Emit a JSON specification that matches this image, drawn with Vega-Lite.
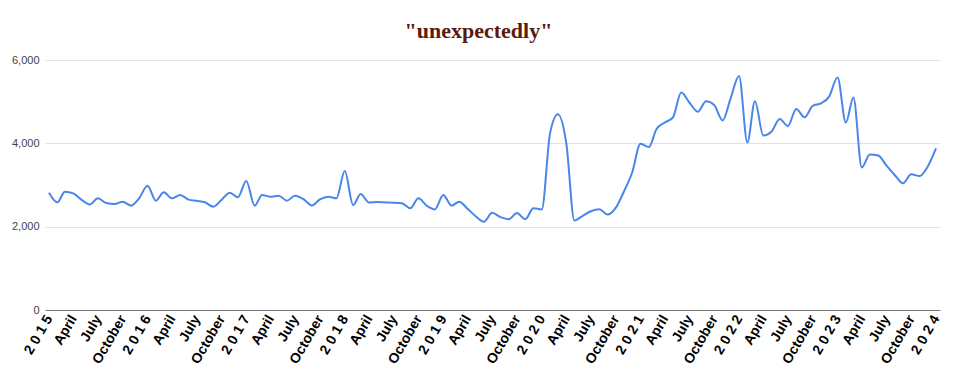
{
  "$schema": "https://vega.github.io/schema/vega-lite/v6.json",
  "autosize": "none",
  "padding": {"left": 45, "top": 60, "right": 15, "bottom": 81},
  "width": 895,
  "height": 250,
  "background": "white",
  "title": {
    "text": "\"unexpectedly\"",
    "font": "Liberation Serif",
    "fontSize": 22,
    "fontWeight": "bold",
    "color": "#5b1a0c",
    "anchor": "middle",
    "dx": -14,
    "offset": 11
  },
  "data": {
    "values": [
      {"date": "2015-01-01", "value": 2815},
      {"date": "2015-02-01", "value": 2585},
      {"date": "2015-03-01", "value": 2840},
      {"date": "2015-04-01", "value": 2800},
      {"date": "2015-05-01", "value": 2650},
      {"date": "2015-06-01", "value": 2530},
      {"date": "2015-07-01", "value": 2680},
      {"date": "2015-08-01", "value": 2570},
      {"date": "2015-09-01", "value": 2545},
      {"date": "2015-10-01", "value": 2600},
      {"date": "2015-11-01", "value": 2505},
      {"date": "2015-12-01", "value": 2680},
      {"date": "2016-01-01", "value": 2985},
      {"date": "2016-02-01", "value": 2625},
      {"date": "2016-03-01", "value": 2825},
      {"date": "2016-04-01", "value": 2680},
      {"date": "2016-05-01", "value": 2760},
      {"date": "2016-06-01", "value": 2650},
      {"date": "2016-07-01", "value": 2620},
      {"date": "2016-08-01", "value": 2585},
      {"date": "2016-09-01", "value": 2480},
      {"date": "2016-10-01", "value": 2640},
      {"date": "2016-11-01", "value": 2815},
      {"date": "2016-12-01", "value": 2705},
      {"date": "2017-01-01", "value": 3095},
      {"date": "2017-02-01", "value": 2505},
      {"date": "2017-03-01", "value": 2760},
      {"date": "2017-04-01", "value": 2720},
      {"date": "2017-05-01", "value": 2745},
      {"date": "2017-06-01", "value": 2625},
      {"date": "2017-07-01", "value": 2745},
      {"date": "2017-08-01", "value": 2660},
      {"date": "2017-09-01", "value": 2510},
      {"date": "2017-10-01", "value": 2655},
      {"date": "2017-11-01", "value": 2720},
      {"date": "2017-12-01", "value": 2680},
      {"date": "2018-01-01", "value": 3335},
      {"date": "2018-02-01", "value": 2520},
      {"date": "2018-03-01", "value": 2785},
      {"date": "2018-04-01", "value": 2580},
      {"date": "2018-05-01", "value": 2590},
      {"date": "2018-06-01", "value": 2580},
      {"date": "2018-07-01", "value": 2575},
      {"date": "2018-08-01", "value": 2560},
      {"date": "2018-09-01", "value": 2440},
      {"date": "2018-10-01", "value": 2680},
      {"date": "2018-11-01", "value": 2505},
      {"date": "2018-12-01", "value": 2415},
      {"date": "2019-01-01", "value": 2760},
      {"date": "2019-02-01", "value": 2505},
      {"date": "2019-03-01", "value": 2600},
      {"date": "2019-04-01", "value": 2430},
      {"date": "2019-05-01", "value": 2250},
      {"date": "2019-06-01", "value": 2120},
      {"date": "2019-07-01", "value": 2335},
      {"date": "2019-08-01", "value": 2230},
      {"date": "2019-09-01", "value": 2180},
      {"date": "2019-10-01", "value": 2330},
      {"date": "2019-11-01", "value": 2180},
      {"date": "2019-12-01", "value": 2440},
      {"date": "2020-01-01", "value": 2415},
      {"date": "2020-02-01", "value": 4250},
      {"date": "2020-03-01", "value": 4700},
      {"date": "2020-04-01", "value": 4000},
      {"date": "2020-05-01", "value": 2150},
      {"date": "2020-06-01", "value": 2260},
      {"date": "2020-07-01", "value": 2370},
      {"date": "2020-08-01", "value": 2420},
      {"date": "2020-09-01", "value": 2290},
      {"date": "2020-10-01", "value": 2450},
      {"date": "2020-11-01", "value": 2850},
      {"date": "2020-12-01", "value": 3300},
      {"date": "2021-01-01", "value": 3990},
      {"date": "2021-02-01", "value": 3910},
      {"date": "2021-03-01", "value": 4340},
      {"date": "2021-04-01", "value": 4500},
      {"date": "2021-05-01", "value": 4620},
      {"date": "2021-06-01", "value": 5220},
      {"date": "2021-07-01", "value": 4980},
      {"date": "2021-08-01", "value": 4760},
      {"date": "2021-09-01", "value": 5010},
      {"date": "2021-10-01", "value": 4920},
      {"date": "2021-11-01", "value": 4550},
      {"date": "2021-12-01", "value": 5080},
      {"date": "2022-01-01", "value": 5615},
      {"date": "2022-02-01", "value": 4020},
      {"date": "2022-03-01", "value": 5010},
      {"date": "2022-04-01", "value": 4190},
      {"date": "2022-05-01", "value": 4280},
      {"date": "2022-06-01", "value": 4585},
      {"date": "2022-07-01", "value": 4415},
      {"date": "2022-08-01", "value": 4825},
      {"date": "2022-09-01", "value": 4625},
      {"date": "2022-10-01", "value": 4900},
      {"date": "2022-11-01", "value": 4960},
      {"date": "2022-12-01", "value": 5120},
      {"date": "2023-01-01", "value": 5580},
      {"date": "2023-02-01", "value": 4500},
      {"date": "2023-03-01", "value": 5100},
      {"date": "2023-04-01", "value": 3420},
      {"date": "2023-05-01", "value": 3735},
      {"date": "2023-06-01", "value": 3710},
      {"date": "2023-07-01", "value": 3470},
      {"date": "2023-08-01", "value": 3240},
      {"date": "2023-09-01", "value": 3040},
      {"date": "2023-10-01", "value": 3260},
      {"date": "2023-11-01", "value": 3215},
      {"date": "2023-12-01", "value": 3440},
      {"date": "2024-01-01", "value": 3880}
    ]
  },
  "mark": {"type": "line", "interpolate": "monotone", "color": "#4a86e8", "strokeWidth": 2},
  "encoding": {
    "x": {
      "field": "date",
      "type": "temporal",
      "scale": {"type": "utc", "domain": [{"year": 2015, "month": 1, "date": 1, "utc": true}, {"year": 2024, "month": 1, "date": 1, "utc": true}], "padding": 4, "nice": false},
      "axis": {
        "title": null,
        "grid": false,
        "ticks": false,
        "domain": true,
        "domainColor": "#777777",
        "domainWidth": 1,
        "tickCount": {"interval": "month", "step": 3},
        "labelAngle": -60,
        "labelAlign": "right",
        "labelBaseline": "middle",
        "labelFont": "Liberation Sans",
        "labelFontSize": 14,
        "labelFontWeight": "bold",
        "labelColor": "#000000",
        "labelPadding": 6,
        "labelOverlap": false,
        "labelBound": false,
        "labelFlush": false,
        "labelExpr": "utcFormat(datum.value, '%m') == '01' ? join(split(utcFormat(datum.value, '%Y'), ''), ' ') : utcFormat(datum.value, '%B')"
      }
    },
    "y": {
      "field": "value",
      "type": "quantitative",
      "scale": {"domain": [0, 6000], "nice": false},
      "axis": {
        "title": null,
        "values": [0, 2000, 4000, 6000],
        "format": ",d",
        "grid": true,
        "gridColor": "#e3e3e3",
        "gridWidth": 1,
        "domain": false,
        "ticks": false,
        "labelFont": "Liberation Sans",
        "labelFontSize": 11,
        "labelColor": "#444444",
        "labelPadding": 6
      }
    }
  },
  "config": {"view": {"stroke": null}}
}
